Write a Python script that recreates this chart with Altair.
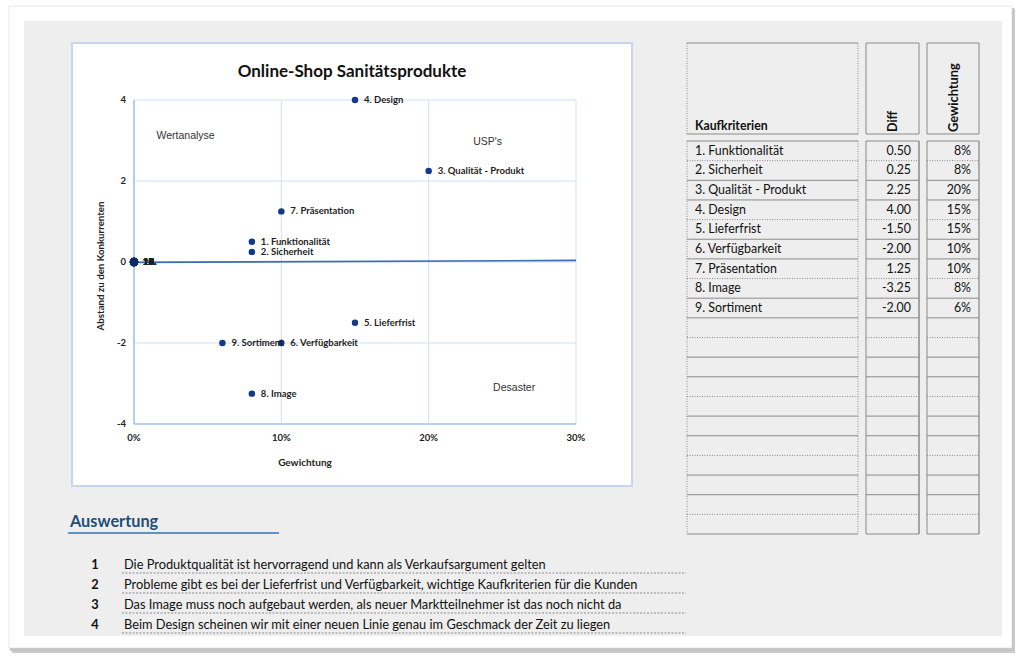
import altair as alt
import pandas as pd

# ---------------- data ----------------
criteria = ["1. Funktionalität", "2. Sicherheit", "3. Qualität - Produkt", "4. Design",
            "5. Lieferfrist", "6. Verfügbarkeit", "7. Präsentation", "8. Image", "9. Sortiment"]
diff_values = [0.50, 0.25, 2.25, 4.00, -1.50, -2.00, 1.25, -3.25, -2.00]
weights = [0.08, 0.08, 0.20, 0.15, 0.15, 0.10, 0.10, 0.08, 0.06]
empty_labels = ["10.", "11.", "12.", "13.", "14.", "15.", "16.", "17.", "18.", "19.", "20."]
empty_diff = [0] * 11
empty_weight = [0] * 11
trend_w = [0.0, 0.30]
trend_d = [-0.01, 0.04]
x_ticks = [0.0, 0.1, 0.2, 0.3]
y_ticks = [-4, -2, 0, 2, 4]
quad_labels = ["Wertanalyse", "USP's", "Desaster"]
quad_w = [0.035, 0.240, 0.258]
quad_d = [3.11, 2.96, -3.11]
notes = [
    "Die Produktqualität ist hervorragend und kann als Verkaufsargument gelten",
    "Probleme gibt es bei der Lieferfrist und Verfügbarkeit, wichtige Kaufkriterien für die Kunden",
    "Das Image muss noch aufgebaut werden, als neuer Marktteilnehmer ist das noch nicht da",
    "Beim Design scheinen wir mit einer neuen Linie genau im Geschmack der Zeit zu liegen",
]
n_table_rows = 20

FONT = "Lato"
MINUS = "\u2212"
one = pd.DataFrame({"k": [0]})

def fmt(field, spec):
    # d3 formats negatives with U+2212; the spreadsheet shows a plain hyphen
    return f"replace(format(datum.{field}, '{spec}'), '{MINUS}', '-')"

# ---------------- decoration ----------------
def box(x1, x2, y1, y2, **kw):
    return alt.Chart(one).mark_rect(**kw).encode(
        x=alt.value(x1), x2=alt.value(x2), y=alt.value(y1), y2=alt.value(y2))

decor = alt.layer(
    box(12, 1015, 9, 653, fill="#8f8f8f", opacity=0.45),
    box(10, 1014, 8, 651, fill="#c4c4c4"),
    box(9, 1012, 6, 648, fill="white", stroke="#d9d9d9", strokeWidth=0.6),
    box(24, 1002, 21, 636, fill="#eeeeee"),
    box(72, 632, 43, 486, fill="white", stroke="#c6d6ee", strokeWidth=2),
)

# ---------------- scatter ----------------
XS = alt.Scale(domain=[0, 0.3], range=[134, 576], nice=False, zero=False)
YS = alt.Scale(domain=[-4, 4], range=[424, 100], nice=False, zero=False)

pts = pd.DataFrame({"w": weights, "d": diff_values, "label": criteria})
empt = pd.DataFrame({"w": empty_weight, "d": empty_diff, "label": empty_labels})
xt = pd.DataFrame({"t": x_ticks})
yt = pd.DataFrame({"t": y_ticks})
trend = pd.DataFrame({"w": trend_w, "d": trend_d})
quad = pd.DataFrame({"w": quad_w, "d": quad_d, "label": quad_labels})

GRID = "#cddff5"
vgrid = alt.Chart(xt).mark_rule(color=GRID, strokeWidth=1).encode(
    x=alt.X("t:Q", scale=XS, axis=None),
    y=alt.YDatum(-4, scale=YS, axis=None), y2=alt.Y2Datum(4))
hgrid = alt.Chart(yt).mark_rule(color=GRID, strokeWidth=1).encode(
    y=alt.Y("t:Q", scale=YS, axis=None),
    x=alt.XDatum(0, scale=XS, axis=None), x2=alt.X2Datum(0.3))
left_line = alt.Chart(one).mark_rule(color="#a9c6ec", strokeWidth=1.6).encode(
    x=alt.XDatum(0, scale=XS, axis=None),
    y=alt.YDatum(-4, scale=YS, axis=None), y2=alt.Y2Datum(4))
bottom_line = alt.Chart(one).mark_rule(color="#a9c6ec", strokeWidth=1.6).encode(
    y=alt.YDatum(-4, scale=YS, axis=None),
    x=alt.XDatum(0, scale=XS, axis=None), x2=alt.X2Datum(0.3))

trend_line = alt.Chart(trend).mark_line(color="#3a6db3", strokeWidth=1.6).encode(
    x=alt.X("w:Q", scale=XS, axis=None), y=alt.Y("d:Q", scale=YS, axis=None))

POINT = "#12398a"
points = alt.Chart(pts).mark_circle(size=42, color=POINT, opacity=1).encode(
    x=alt.X("w:Q", scale=XS, axis=None), y=alt.Y("d:Q", scale=YS, axis=None))
empty_points = alt.Chart(empt).mark_circle(size=70, color="#0d2a66", opacity=1).encode(
    x=alt.X("w:Q", scale=XS, axis=None), y=alt.Y("d:Q", scale=YS, axis=None))
labels = alt.Chart(pts).mark_text(align="left", baseline="middle", dx=9, font=FONT,
                                  fontSize=9.5, fontWeight="bold", color="#1e1e1e").encode(
    x=alt.X("w:Q", scale=XS, axis=None), y=alt.Y("d:Q", scale=YS, axis=None), text="label:N")
empty_labels_layer = alt.Chart(empt).mark_text(align="left", baseline="middle", dx=9, font=FONT,
                                               fontSize=9.5, fontWeight="bold", color="#1e1e1e").encode(
    x=alt.X("w:Q", scale=XS, axis=None), y=alt.Y("d:Q", scale=YS, axis=None), text="label:N")

xtick_labels = alt.Chart(xt).transform_calculate(lab=fmt("t", ".0%")).mark_text(
    align="center", baseline="middle", dy=14, font=FONT,
    fontSize=9.5, fontWeight="bold", color="#222222").encode(
    x=alt.X("t:Q", scale=XS, axis=None),
    y=alt.YDatum(-4, scale=YS, axis=None),
    text="lab:N")
ytick_labels = alt.Chart(yt).transform_calculate(lab=fmt("t", "d")).mark_text(
    align="right", baseline="middle", dx=-8, font=FONT,
    fontSize=9.5, fontWeight="bold", color="#222222").encode(
    y=alt.Y("t:Q", scale=YS, axis=None),
    x=alt.XDatum(0, scale=XS, axis=None),
    text="lab:N")
quad_text = alt.Chart(quad).mark_text(align="center", baseline="middle", font="Liberation Sans",
                                      fontSize=10.5, color="#333333").encode(
    x=alt.X("w:Q", scale=XS, axis=None), y=alt.Y("d:Q", scale=YS, axis=None), text="label:N")

def label(txt, x, y, **kw):
    return alt.Chart(pd.DataFrame({"t": [txt]})).mark_text(font=FONT, **kw).encode(
        x=alt.value(x), y=alt.value(y), text="t:N")

chart_title = label("Online-Shop Sanitätsprodukte", 352, 72, fontSize=17, fontWeight="bold",
                    color="#111111", align="center", baseline="middle")
x_title = label("Gewichtung", 305, 463, fontSize=10, fontWeight="bold", color="#222222",
                align="center", baseline="middle")
y_title = label("Abstand zu den Konkurrenten", 101, 266, fontSize=9.7, fontWeight="bold",
                color="#222222", align="center", baseline="middle", angle=270)

scatter = alt.layer(vgrid, hgrid, left_line, bottom_line, trend_line, empty_points, points,
                    labels, empty_labels_layer, xtick_labels, ytick_labels, quad_text,
                    chart_title, x_title, y_title)

# ---------------- table ----------------
TY = alt.Scale(domain=[0, n_table_rows], range=[141, 534], nice=False, zero=False)
rows = pd.DataFrame({"pos": [i + 0.5 for i in range(len(criteria))],
                     "crit": criteria, "diff": diff_values, "w": weights})
bounds = pd.DataFrame({"k": list(range(n_table_rows + 1))})
bounds["style"] = ["dotted" if k % 3 == 1 else "solid" for k in bounds["k"]]

LINE = "#8a8a8a"
dash_scale = alt.Scale(domain=["solid", "dotted"], range=[[1, 0], [1, 1.5]])

def hlines(x1, x2):
    return alt.Chart(bounds).mark_rule(color=LINE, strokeWidth=1).encode(
        y=alt.Y("k:Q", scale=TY, axis=None),
        x=alt.value(x1), x2=alt.value(x2),
        strokeDash=alt.StrokeDash("style:N", scale=dash_scale, legend=None))

def vline(x, dotted=False, width=1.0):
    kw = {"strokeDash": [1, 1.5]} if dotted else {}
    return alt.Chart(one).mark_rule(color=LINE, strokeWidth=width, **kw).encode(
        x=alt.value(x), y=alt.YDatum(0, scale=TY, axis=None), y2=alt.Y2Datum(n_table_rows))

def header_box(x1, x2, dotted_sides=False):
    layers = [
        alt.Chart(one).mark_rule(color=LINE, strokeWidth=1).encode(
            x=alt.value(x1), x2=alt.value(x2), y=alt.value(43)),
        alt.Chart(one).mark_rule(color=LINE, strokeWidth=1).encode(
            x=alt.value(x1), x2=alt.value(x2), y=alt.value(134)),
    ]
    kw = {"strokeDash": [1, 1.5]} if dotted_sides else {}
    for xx in (x1, x2):
        layers.append(alt.Chart(one).mark_rule(color=LINE, strokeWidth=1, **kw).encode(
            x=alt.value(xx), y=alt.value(43), y2=alt.value(134)))
    return alt.layer(*layers)

TFS = 12.4
crit_text = alt.Chart(rows).mark_text(align="left", baseline="middle", font=FONT, fontSize=TFS,
                                      color="#111111").encode(
    x=alt.value(695), y=alt.Y("pos:Q", scale=TY, axis=None), text="crit:N")
diff_text = alt.Chart(rows).transform_calculate(lab=fmt("diff", ".2f")).mark_text(
    align="right", baseline="middle", font=FONT, fontSize=TFS, color="#111111").encode(
    x=alt.value(911), y=alt.Y("pos:Q", scale=TY, axis=None), text="lab:N")
w_text = alt.Chart(rows).transform_calculate(lab=fmt("w", ".0%")).mark_text(
    align="right", baseline="middle", font=FONT, fontSize=TFS, color="#111111").encode(
    x=alt.value(971), y=alt.Y("pos:Q", scale=TY, axis=None), text="lab:N")

h_kauf = label("Kaufkriterien", 695, 126, fontSize=12.3, fontWeight="bold", color="#111111",
               align="left", baseline="middle")
h_diff = label("Diff", 893, 132, fontSize=12.5, fontWeight="bold", color="#111111",
               align="left", baseline="middle", angle=270)
h_gew = label("Gewichtung", 954, 132, fontSize=12.8, fontWeight="bold", color="#111111",
              align="left", baseline="middle", angle=270)

table = alt.layer(
    header_box(687, 858, dotted_sides=True), header_box(866, 919), header_box(927, 979),
    hlines(687, 858), hlines(866, 919), hlines(927, 979),
    vline(687, dotted=True), vline(858, dotted=True), vline(866), vline(919, width=1.5),
    vline(927), vline(979, width=1.3),
    crit_text, diff_text, w_text, h_kauf, h_diff, h_gew,
)

# ---------------- Auswertung ----------------
NY = alt.Scale(domain=[0.5, 4.5], range=[555, 635], nice=False, zero=False)
notes_df = pd.DataFrame({"n": list(range(1, len(notes) + 1)), "txt": notes})

heading = label("Auswertung", 70, 522, fontSize=16.3, fontWeight="bold", color="#1f4e79",
                align="left", baseline="middle")
heading_line = alt.Chart(one).mark_rule(color="#2e74b5", strokeWidth=1.6).encode(
    x=alt.value(68), x2=alt.value(279), y=alt.value(533))
note_nums = alt.Chart(notes_df).mark_text(align="center", baseline="middle", font=FONT,
                                          fontSize=12.8, fontWeight="bold", color="#111111").encode(
    x=alt.value(95), y=alt.Y("n:Q", scale=NY, axis=None), text="n:N")
note_txt = alt.Chart(notes_df).mark_text(align="left", baseline="middle", font=FONT,
                                         fontSize=12.8, color="#111111").encode(
    x=alt.value(124), y=alt.Y("n:Q", scale=NY, axis=None), text="txt:N")
note_lines = alt.Chart(notes_df).transform_calculate(u="datum.n + 0.4").mark_rule(
    color="#8a8a8a", strokeWidth=1, strokeDash=[2, 1.5]).encode(
    x=alt.value(122), x2=alt.value(686), y=alt.Y("u:Q", scale=NY, axis=None))

notes_layer = alt.layer(heading, heading_line, note_lines, note_nums, note_txt)

chart = alt.layer(decor, scatter, table, notes_layer).resolve_scale(
    x="independent", y="independent", strokeDash="independent"
).properties(
    width=1024, height=663, padding=0, background="white",
    autosize=alt.AutoSizeParams(type="none"),
).configure_view(stroke=None)

chart.save("out.html", embed_options={"renderer": "svg", "actions": False})
